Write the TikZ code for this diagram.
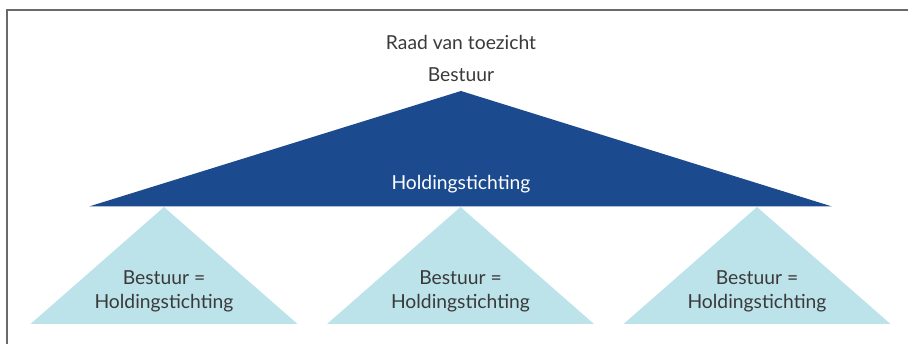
\documentclass[tikz,border=0pt]{standalone}
\usepackage{fontspec}
\setmainfont{Lato}
\usepackage{tikz}

\definecolor{donker}{HTML}{1B4A8E}
\definecolor{licht}{HTML}{BDE3EA}
\definecolor{tekst}{HTML}{3A3A3A}
\definecolor{rand}{HTML}{6A6A6A}

\begin{document}
\begin{tikzpicture}[
	x=1pt, y=-1pt,
	t/.style={text=tekst, font=\fontsize{19.3}{24}\selectfont, align=center, inner sep=0pt},
	groot/.style={fill=donker},
	klein/.style={fill=licht}
]
	\useasboundingbox (0,0) rectangle (908,344);
	\draw[line width=1.5pt, color=rand] (908,10) -- (7,10) -- (7,344);

	\fill[groot] (461,91) -- (832,206.5) -- (89,206.5) -- cycle;
	\fill[klein] (164,207) -- (297.5,324) -- (30.5,324) -- cycle;
	\fill[klein] (460.5,207) -- (594,324) -- (327,324) -- cycle;
	\fill[klein] (757,207) -- (890.5,324) -- (623.5,324) -- cycle;

	\node[t] (rvt) at (461,42) {Raad van toezicht};
	\node[t] (bestuur) at (461,75) {Bestuur};
	\node[t, text=white] (holding) at (461,184) {Holdingstichting};

	\node[t] (A) at (164,291) {Bestuur =\\Holdingstichting};
	\node[t] (B) at (460.5,291) {Bestuur =\\Holdingstichting};
	\node[t] (C) at (757,291) {Bestuur =\\Holdingstichting};
\end{tikzpicture}
\end{document}
